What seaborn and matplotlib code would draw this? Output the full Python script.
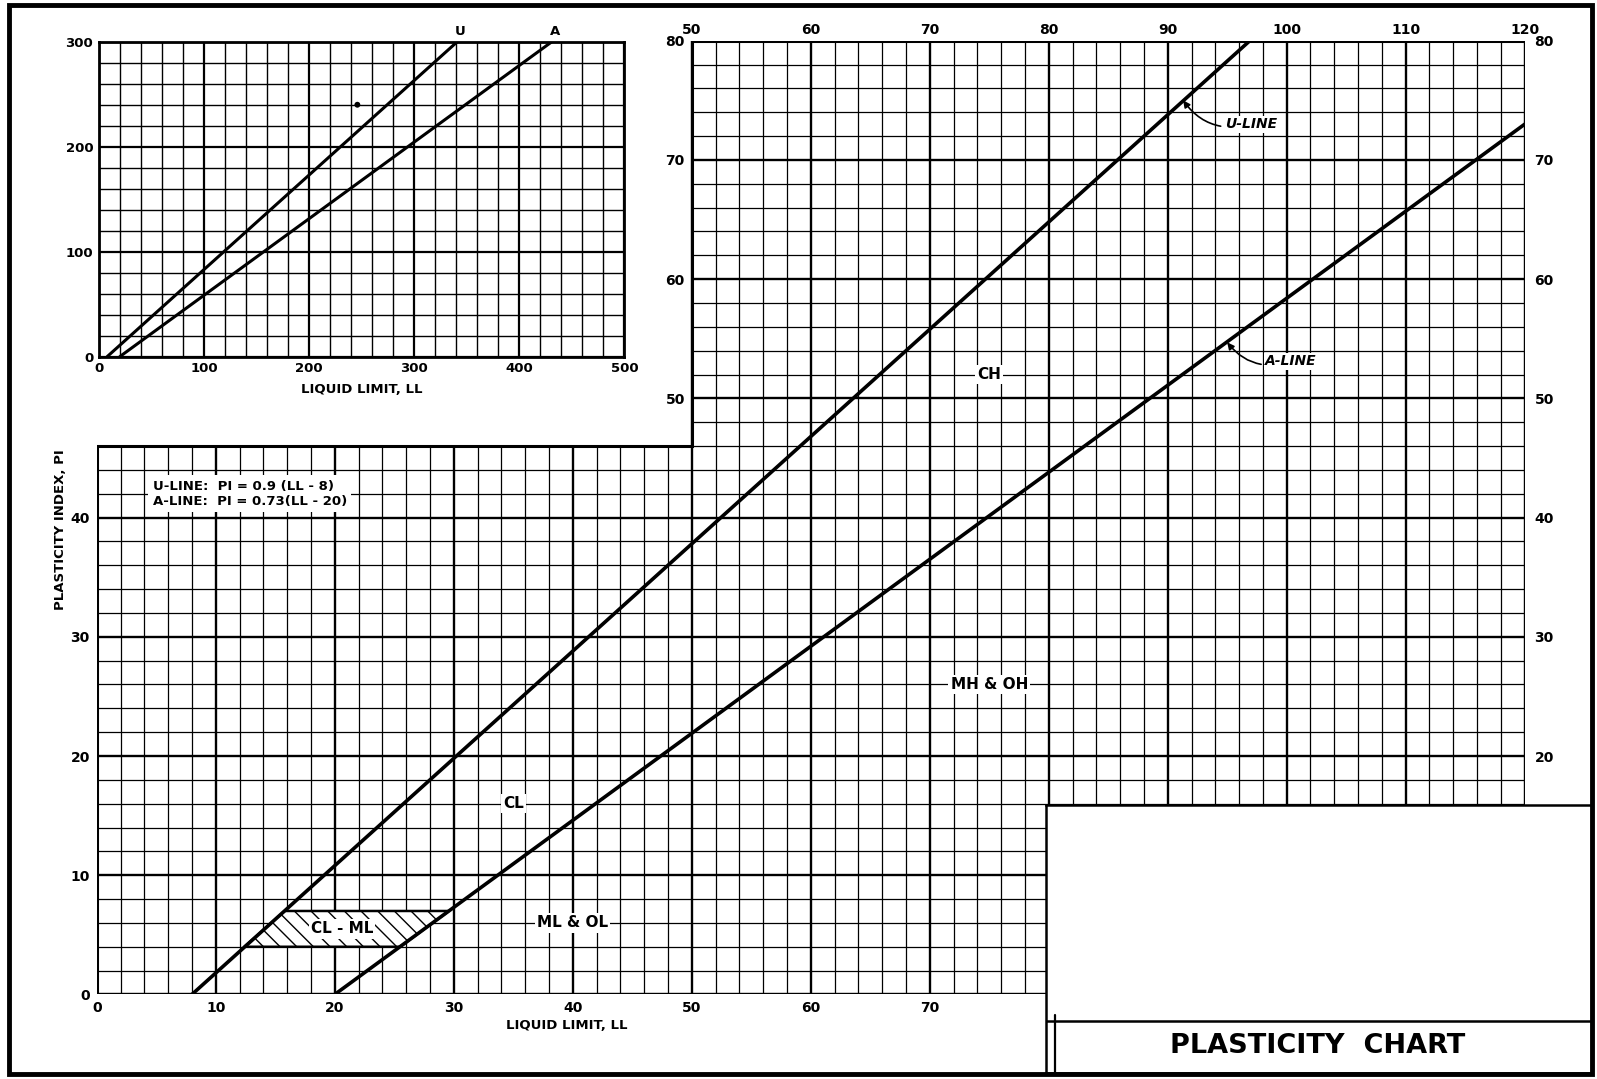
import numpy as np
import matplotlib
matplotlib.use('Agg')
import matplotlib.pyplot as plt
import seaborn as sns
from matplotlib.patches import Rectangle, Polygon

# --- values ---
# main chart: U-line and A-line end points (LL, PI)
u_ll = [8, 96.9]
u_pi = [0, 80]
a_ll = [20, 120]
a_pi = [0, 73]
# CL-ML hatched band between PI 4 and 7
clml_ll = [12.4, 25.5, 29.6, 15.8]
clml_pi = [4, 4, 7, 7]

# inset chart (LL up to 500)
ins_u_ll = [8, 341]
ins_u_pi = [0, 300]
ins_a_ll = [20, 431]
ins_a_pi = [0, 300]
ins_dot_ll = [246]
ins_dot_pi = [240]

bottom_ticks = [0, 10, 20, 30, 40, 50, 60, 70]
top_ticks = [50, 60, 70, 80, 90, 100, 110, 120]
left_ticks = [0, 10, 20, 30, 40]
left_upper_ticks = [50, 60, 70, 80]
right_ticks = [20, 30, 40, 50, 60, 70, 80]
ins_x_ticks = [0, 100, 200, 300, 400, 500]
ins_y_ticks = [0, 100, 200, 300]

zone_labels = ['CH', 'MH & OH', 'CL', 'ML & OL', 'CL - ML']
zone_ll = [75, 75, 35, 40, 20.6]
zone_pi = [52, 26, 16, 6, 5.5]

sns.set_theme(style='white')
plt.rcParams['font.family'] = ['DejaVu Sans']
plt.rcParams['font.weight'] = 'bold'
plt.rcParams['hatch.linewidth'] = 1.0
for key in ('text.color', 'axes.labelcolor', 'xtick.color', 'ytick.color'):
    plt.rcParams[key] = 'black'

fig = plt.figure(figsize=(15.97, 10.79), dpi=100)
W, H = 1568, 1059  # pixel grid of the reference


def box(l, t, r, b):
    return [l / W, 1 - b / H, (r - l) / W, (b - t) / H]


# ---------------- main chart ----------------
ax = fig.add_axes(box(95, 40, 1497, 976))
ax.set_xlim(0, 120)
ax.set_ylim(0, 80)
for s in ax.spines.values():
    s.set_visible(False)

# L-shaped grid: left part stops at PI 46, upper part starts at LL 50
xs = np.arange(0, 121, 2)
ax.vlines(xs, 0, np.where(xs < 50, 46, 80), color='black',
          lw=np.where(xs % 10 == 0, 1.7, 0.9), zorder=1)
ys = np.arange(0, 81, 2)
ax.hlines(ys, np.where(ys <= 46, 0, 50), 120, color='black',
          lw=np.where(ys % 10 == 0, 1.7, 0.9), zorder=1)
ax.plot([0, 120, 120, 50, 50, 0, 0], [0, 0, 80, 80, 46, 46, 0],
        color='black', lw=2.2, zorder=2, solid_joinstyle='miter')

ax.set_xticks(bottom_ticks)
ax.set_yticks(left_ticks)
ax.tick_params(length=0, labelsize=10, pad=5)
for lab in ax.get_xticklabels() + ax.get_yticklabels():
    lab.set_fontweight('bold')

sec_top = ax.secondary_xaxis('top')
sec_top.set_xticks(top_ticks)
sec_right = ax.secondary_yaxis('right')
sec_right.set_yticks(right_ticks)
sec_mid = ax.secondary_yaxis(50 / 120)
sec_mid.set_yticks(left_upper_ticks)
for sa in (sec_top, sec_right, sec_mid):
    for s in sa.spines.values():
        s.set_visible(False)
    sa.tick_params(length=0, labelsize=10, pad=3)
    for lab in sa.get_xticklabels() + sa.get_yticklabels():
        lab.set_fontweight('bold')
sec_right.tick_params(pad=7)
sec_mid.tick_params(pad=5)

ax.set_xlabel('LIQUID LIMIT, LL', fontsize=9.5, fontweight='bold')
ax.xaxis.set_label_coords(39.5 / 120, -0.026)
ax.set_ylabel('PLASTICITY INDEX, PI', fontsize=9.5, fontweight='bold')
ax.yaxis.set_label_coords(-0.021, 39 / 80)

sns.lineplot(x=u_ll, y=u_pi, ax=ax, color='black', lw=2.6, zorder=4)
sns.lineplot(x=a_ll, y=a_pi, ax=ax, color='black', lw=2.6, zorder=4)

ax.add_patch(Polygon(np.column_stack([clml_ll, clml_pi]), closed=True,
                     facecolor='white', edgecolor='black', hatch='\\\\',
                     lw=1.8, zorder=3))

for lab, x, y in zip(zone_labels, zone_ll, zone_pi):
    ax.text(x, y, lab, ha='center', va='center', fontsize=11,
            fontweight='bold', zorder=5,
            bbox=dict(fc='white', ec='none', pad=1.5))

ax.text(4.7, 42.0, 'U-LINE:  PI = 0.9 (LL - 8)\nA-LINE:  PI = 0.73(LL - 20)',
        ha='left', va='center', fontsize=9.5, fontweight='bold',
        linespacing=1.25, zorder=5,
        bbox=dict(fc='white', ec='none', pad=3))

ax.annotate('U-LINE', xy=(91.3, 75.0), xytext=(94.8, 73.0),
            ha='left', va='center', fontsize=10, fontweight='bold',
            fontstyle='italic', zorder=5,
            bbox=dict(fc='white', ec='none', pad=1),
            arrowprops=dict(arrowstyle='-|>', color='black', lw=1.2,
                            connectionstyle='arc3,rad=-0.35',
                            shrinkA=2, shrinkB=0, mutation_scale=10))
ax.annotate('A-LINE', xy=(95.0, 54.7), xytext=(98.2, 53.1),
            ha='left', va='center', fontsize=10, fontweight='bold',
            fontstyle='italic', zorder=5,
            bbox=dict(fc='white', ec='none', pad=1),
            arrowprops=dict(arrowstyle='-|>', color='black', lw=1.2,
                            connectionstyle='arc3,rad=-0.35',
                            shrinkA=2, shrinkB=0, mutation_scale=10))

# ---------------- inset chart ----------------
axi = fig.add_axes(box(97, 41, 613, 350))
axi.set_xlim(0, 500)
axi.set_ylim(0, 300)
axi.set_facecolor('white')
ix = np.arange(0, 501, 20)
iy = np.arange(0, 301, 20)
axi.vlines(ix, 0, 300, color='black', lw=np.where(ix % 100 == 0, 1.6, 1.0), zorder=1)
axi.hlines(iy, 0, 500, color='black', lw=np.where(iy % 100 == 0, 1.6, 1.0), zorder=1)
for s in axi.spines.values():
    s.set_visible(True)
    s.set_color('black')
    s.set_linewidth(2)
sns.lineplot(x=ins_u_ll, y=ins_u_pi, ax=axi, color='black', lw=2.2, zorder=3)
sns.lineplot(x=ins_a_ll, y=ins_a_pi, ax=axi, color='black', lw=2.2, zorder=3)
sns.scatterplot(x=ins_dot_ll, y=ins_dot_pi, ax=axi, color='black', s=18,
                zorder=3, edgecolor='none')
axi.set_xticks(ins_x_ticks)
axi.set_yticks(ins_y_ticks)
axi.tick_params(length=0, labelsize=9.5, pad=4)
for lab in axi.get_xticklabels() + axi.get_yticklabels():
    lab.set_fontweight('bold')
axi.set_xlabel('LIQUID LIMIT, LL', fontsize=9.5, fontweight='bold', labelpad=6)
axi.set_ylabel('')
for lab, x in zip(['U', 'A'], [ins_u_ll[1], ins_a_ll[1]]):
    axi.annotate(lab, xy=(x, 300), xytext=(2, 3), textcoords='offset points',
                 ha='center', va='bottom', fontsize=9.5, fontweight='bold',
                 annotation_clip=False)

# ---------------- title block ----------------
axt = fig.add_axes(box(1027, 790, 1563, 1053))
axt.set_zorder(10)
axt.set_xlim(0, 1)
axt.set_ylim(0, 1)
axt.set_facecolor('white')
axt.set_xticks([])
axt.set_yticks([])
for s in axt.spines.values():
    s.set_visible(True)
    s.set_color('black')
    s.set_linewidth(1.8)
axt.axhline(0.195, color='black', lw=1.8)
axt.plot([0.016, 0.016], [0, 0.215], color='black', lw=1.6)
axt.text(0.497, 0.1, 'PLASTICITY  CHART', ha='center', va='center',
         fontsize=19.5, fontweight='bold')

# outer frame
fig.add_artist(Rectangle((9 / W, 1 - 1054 / H), (1563 - 9) / W, (1054 - 5) / H,
                         transform=fig.transFigure, fill=False,
                         edgecolor='black', lw=3.5, zorder=20))

fig.savefig('out.png', dpi=100, facecolor='white')
